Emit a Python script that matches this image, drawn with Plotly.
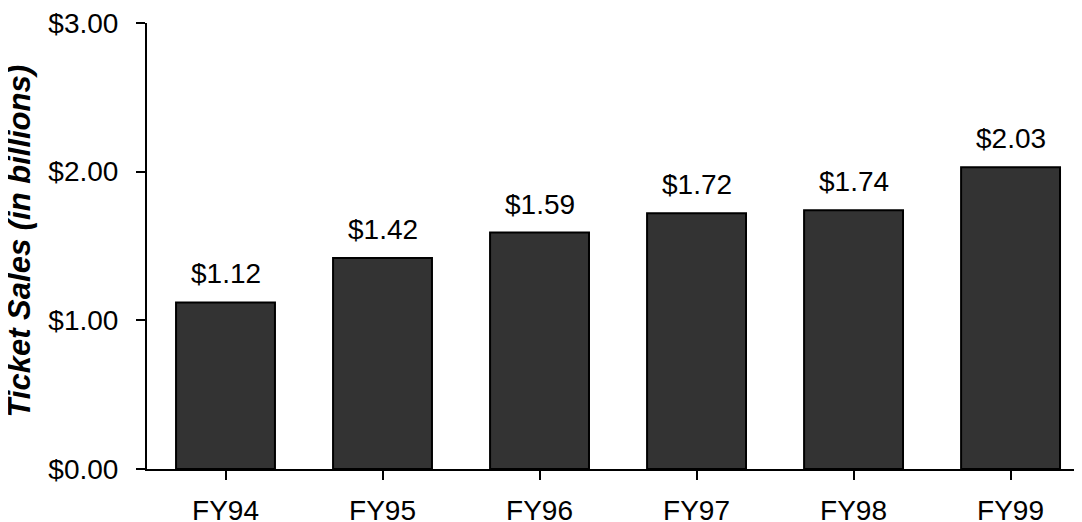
import plotly.graph_objects as go

categories = ["FY94", "FY95", "FY96", "FY97", "FY98", "FY99"]
sales = [1.12, 1.42, 1.59, 1.72, 1.74, 2.03]
y_ticks = [0, 1, 2, 3]
y_tick_labels = ["$0.00", "$1.00", "$2.00", "$3.00"]
y_title = "Ticket Sales (in billions)"

FONT = "Liberation Sans, Arial, sans-serif"
# page body has an 8px default margin; compensate so the plot lands where the reference has it
OFF = 8
W, H = 1082 - OFF, 522 - OFF
L, R, T = 147 - OFF, 0, 23 - OFF
B = H - T - 446

fig = go.Figure()
fig.add_trace(go.Bar(
    x=list(range(len(categories))),
    y=sales,
    marker=dict(color="#333333", line=dict(color="#000000", width=2)),
    width=0.63,
    hoverinfo="skip",
))

for i, v in enumerate(sales):
    fig.add_annotation(
        x=i, y=v, text=f"${v:.2f}", showarrow=False,
        yanchor="bottom", yshift=11,
        font=dict(family=FONT, size=28, color="#000000"),
    )

fig.add_annotation(
    xref="paper", yref="paper",
    x=(20 - 147) / (W - L - R), y=0.51,
    text=f"<b><i>{y_title}</i></b>", textangle=-90, showarrow=False,
    xanchor="center", yanchor="middle",
    font=dict(family=FONT, size=31, color="#000000"),
)

fig.update_layout(
    width=W, height=H,
    margin=dict(l=L, r=R, t=T, b=B, autoexpand=False),
    paper_bgcolor="white", plot_bgcolor="white",
    showlegend=False,
    font=dict(family=FONT, color="#000000"),
)

fig.update_xaxes(
    range=[-0.5, 5.455],
    tickmode="array",
    tickvals=list(range(len(categories))),
    ticktext=categories,
    tickson="boundaries",
    ticks="outside", ticklen=9, tickwidth=2, tickcolor="#000000",
    showline=True, linecolor="#000000", linewidth=2,
    showgrid=False, zeroline=False, automargin=False,
    tickfont=dict(family=FONT, size=28, color="#000000"),
    ticklabelstandoff=6,
    ticklabeloverflow="allow",
)

fig.update_yaxes(
    range=[0, 3],
    tickmode="array",
    tickvals=y_ticks,
    ticktext=y_tick_labels,
    ticks="outside", ticklen=9, tickwidth=2, tickcolor="#000000",
    showline=True, linecolor="#000000", linewidth=2,
    showgrid=False, zeroline=False, automargin=False,
    tickfont=dict(family=FONT, size=28, color="#000000"),
    ticklabelstandoff=12,
    ticklabeloverflow="allow",
)

fig.write_html("out.html")
